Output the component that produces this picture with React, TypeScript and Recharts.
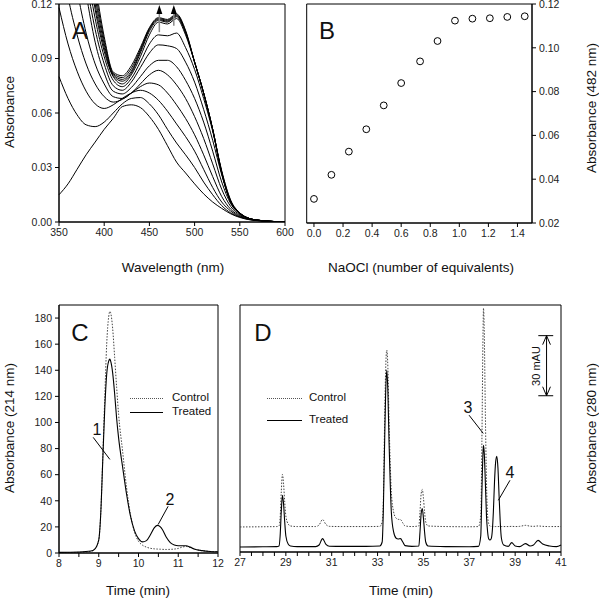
import React from 'react';
import { ComposedChart, ScatterChart, LineChart, Line, Scatter, XAxis, YAxis, ReferenceLine, ReferenceArea } from 'recharts';

// Panel A: absorption spectra (one array per NaOCl addition)
const wavelengths = [350, 360, 370, 380, 390, 400, 410, 420, 430, 440, 450, 460, 470, 480, 490, 500, 510, 520, 530, 540, 550, 560, 570, 580, 590, 600];
const spec00 = [0.015, 0.021, 0.029, 0.037, 0.044, 0.051, 0.057, 0.0635, 0.0645, 0.063, 0.058, 0.051, 0.042, 0.033, 0.027, 0.021, 0.0155, 0.011, 0.0075, 0.0045, 0.0025, 0.0013, 0.0007, 0.0004, 0.0002, 0];
const spec01 = [0.080, 0.068, 0.059, 0.0535, 0.0525, 0.055, 0.060, 0.065, 0.068, 0.0685, 0.065, 0.059, 0.051, 0.0435, 0.037, 0.030, 0.022, 0.015, 0.009, 0.005, 0.0028, 0.0014, 0.0008, 0.0004, 0.0002, 0];
const spec02 = [0.118, 0.098, 0.083, 0.072, 0.065, 0.0625, 0.0645, 0.068, 0.071, 0.0725, 0.071, 0.067, 0.061, 0.054, 0.047, 0.039, 0.029, 0.019, 0.011, 0.006, 0.003, 0.0015, 0.0008, 0.0004, 0.0002, 0];
const spec03 = [0.155, 0.124, 0.103, 0.087, 0.076, 0.069, 0.066, 0.0675, 0.071, 0.0745, 0.0765, 0.0755, 0.071, 0.0645, 0.057, 0.048, 0.037, 0.025, 0.014, 0.007, 0.0035, 0.0017, 0.0009, 0.0004, 0.0002, 0];
const spec04 = [0.20, 0.16, 0.128, 0.104, 0.087, 0.076, 0.069, 0.068, 0.071, 0.076, 0.081, 0.0835, 0.081, 0.0755, 0.068, 0.058, 0.046, 0.032, 0.018, 0.0085, 0.004, 0.0018, 0.0009, 0.0004, 0.0002, 0];
const spec05 = [0.25, 0.20, 0.16, 0.126, 0.099, 0.082, 0.072, 0.0705, 0.074, 0.080, 0.086, 0.089, 0.089, 0.0855, 0.078, 0.068, 0.055, 0.039, 0.022, 0.010, 0.0045, 0.002, 0.001, 0.0005, 0.0002, 0];
const spec06 = [0.27, 0.22, 0.175, 0.134, 0.106, 0.087, 0.075, 0.0725, 0.077, 0.085, 0.093, 0.0975, 0.097, 0.0955, 0.088, 0.077, 0.062, 0.045, 0.026, 0.011, 0.005, 0.002, 0.001, 0.0005, 0.0002, 0];
const spec07 = [0.28, 0.23, 0.185, 0.142, 0.112, 0.091, 0.078, 0.0745, 0.079, 0.088, 0.098, 0.103, 0.1025, 0.104, 0.096, 0.084, 0.068, 0.050, 0.028, 0.012, 0.005, 0.002, 0.001, 0.0005, 0.0002, 0];
const spec08 = [0.29, 0.24, 0.195, 0.15, 0.117, 0.094, 0.080, 0.076, 0.081, 0.091, 0.103, 0.110, 0.109, 0.112, 0.103, 0.088, 0.071, 0.051, 0.028, 0.0115, 0.005, 0.002, 0.001, 0.0005, 0.0002, 0];
const spec09 = [0.30, 0.25, 0.20, 0.155, 0.12, 0.096, 0.0805, 0.0775, 0.082, 0.093, 0.105, 0.111, 0.110, 0.113, 0.104, 0.088, 0.071, 0.051, 0.027, 0.011, 0.0048, 0.002, 0.001, 0.0005, 0.0002, 0];
const spec10 = [0.31, 0.26, 0.21, 0.16, 0.124, 0.098, 0.0812, 0.0785, 0.083, 0.094, 0.106, 0.1115, 0.1105, 0.1135, 0.1045, 0.088, 0.071, 0.051, 0.027, 0.011, 0.0048, 0.002, 0.001, 0.0005, 0.0002, 0];
const spec11 = [0.32, 0.27, 0.215, 0.165, 0.128, 0.100, 0.0818, 0.0795, 0.0845, 0.095, 0.1065, 0.112, 0.111, 0.114, 0.105, 0.088, 0.071, 0.051, 0.027, 0.011, 0.0048, 0.002, 0.001, 0.0005, 0.0002, 0];
const spec12 = [0.33, 0.28, 0.22, 0.17, 0.132, 0.102, 0.0825, 0.0805, 0.086, 0.096, 0.107, 0.1125, 0.1115, 0.1145, 0.1055, 0.088, 0.071, 0.051, 0.027, 0.011, 0.0048, 0.002, 0.001, 0.0005, 0.0002, 0];
const spectra = [spec00, spec01, spec02, spec03, spec04, spec05, spec06, spec07, spec08, spec09, spec10, spec11, spec12];

// arrows in panel A
const arrowWavelengths = [461, 477];
const arrowTails = [0.1045, 0.108];
const arrowTips = [0.1172, 0.1172];

// Panel B: titration at 482 nm
const equivalents = [0, 0.12, 0.24, 0.36, 0.48, 0.60, 0.73, 0.85, 0.97, 1.09, 1.21, 1.33, 1.45];
const abs482 = [0.031, 0.042, 0.0526, 0.0628, 0.0737, 0.0839, 0.0938, 0.1031, 0.1124, 0.1133, 0.1135, 0.1141, 0.1144];

// Panel C: HPLC 214 nm
const timeC = [8.0, 8.5, 8.8, 8.9, 9.0, 9.05, 9.1, 9.15, 9.2, 9.25, 9.28, 9.3, 9.35, 9.4, 9.45, 9.5, 9.6, 9.7, 9.8, 9.9, 10.0, 10.1, 10.2, 10.3, 10.4, 10.48, 10.55, 10.6, 10.7, 10.8, 10.9, 11.0, 11.1, 11.2, 11.3, 11.4, 11.6, 11.8, 12.0];
const controlC = [0.3, 0.5, 1.2, 3, 10, 30, 72, 118, 160, 181, 185, 184, 172, 150, 127, 106, 78, 50, 29, 16, 9, 6, 4.5, 3.6, 3.2, 3, 2.9, 2.8, 2.7, 2.8, 3, 3.5, 4.5, 5, 4.2, 3, 1.8, 1.2, 1];
const treatedC = [0.5, 0.8, 1.5, 3, 10, 30, 70, 110, 137, 147, 148.5, 147, 138, 122, 103, 88, 66, 45, 28, 17, 11, 8.5, 9.5, 14, 19.5, 21.2, 20, 18, 12, 8, 6.2, 5.6, 5.6, 5.6, 4.5, 3, 1.8, 1.2, 1];

// Panel D: HPLC 280 nm (mAU, control offset upward)
const timeD = [27.0, 28.0, 28.6, 28.7, 28.75, 28.8, 28.85, 28.9, 28.95, 29.0,
  29.1, 29.2, 29.5, 30.3, 30.45, 30.6, 30.75, 30.9, 31.5, 32.5,
  33.1, 33.2, 33.25, 33.3, 33.35, 33.4, 33.45, 33.5, 33.55, 33.6,
  33.7, 33.8, 33.9, 34.0, 34.1, 34.2, 34.5, 34.8, 34.85, 34.9,
  34.95, 35.0, 35.05, 35.1, 35.2, 36.0, 37.0, 37.4, 37.5, 37.55,
  37.6, 37.62, 37.65, 37.7, 37.75, 37.8, 37.85, 37.9, 37.95, 38.0,
  38.05, 38.1, 38.15, 38.2, 38.25, 38.3, 38.35, 38.4, 38.5, 38.7,
  38.85, 39.0, 39.2, 39.45, 39.65, 39.8, 40.0, 40.2, 40.5, 40.8, 41.0];
const controlD = [12.5, 12.6, 12.7, 13, 17, 30, 38.7, 34, 25, 18,
  14, 13, 12.7, 12.7, 13.5, 16.2, 13.7, 12.8, 12.7, 12.7,
  12.8, 15, 25, 60, 90, 100.8, 92, 66, 45, 30,
  20, 17, 16.3, 16.2, 14.5, 13, 12.7, 13, 20, 29,
  31.2, 27, 20, 15, 13, 12.7, 12.6, 12.7, 18, 55,
  110, 121.7, 112, 70, 35, 18, 14, 13, 12.8, 12.7,
  12.7, 12.7, 12.7, 12.7, 12.7, 12.7, 12.7, 12.7, 12.7, 12.7,
  12.8, 12.7, 12.8, 13.3, 12.9, 12.8, 13, 12.8, 12.7, 12.7, 12.7];
const treatedD = [2.5, 2.6, 2.7, 3, 8, 20, 28.3, 24, 15, 8,
  4, 3, 2.7, 2.7, 3.5, 6.7, 3.8, 2.9, 2.8, 2.8,
  3, 5, 20, 50, 78, 90.8, 80, 55, 35, 20,
  10, 7, 6.5, 6.7, 5, 3.2, 2.8, 3, 10, 19,
  21.7, 17, 10, 5, 3, 2.7, 2.6, 2.8, 8, 30,
  50, 53.3, 50, 35, 18, 10, 6.5, 6, 6.5, 10,
  20, 35, 45, 47.8, 42, 28, 15, 7, 3.5, 2.8,
  4.7, 3, 2.7, 4.2, 3, 3.5, 5.8, 4, 3, 2.7, 3.5];

const waveTicks = [350, 400, 450, 500, 550, 600];
const absTicksA = [0, 0.03, 0.06, 0.09, 0.12];
const eqTicks = [0, 0.2, 0.4, 0.6, 0.8, 1.0, 1.2, 1.4];
const absTicksB = [0.02, 0.04, 0.06, 0.08, 0.10, 0.12];
const timeTicksC = [8, 8.5, 9, 9.5, 10, 10.5, 11, 11.5, 12];
const absTicksC = [0, 20, 40, 60, 80, 100, 120, 140, 160, 180];
const timeTicksD = [27, 27.5, 28, 28.5, 29, 29.5, 30, 30.5, 31, 31.5, 32, 32.5, 33, 33.5, 34, 34.5, 35, 35.5, 36, 36.5, 37, 37.5, 38, 38.5, 39, 39.5, 40, 40.5, 41];

const spectraRows = wavelengths.map((w, i) => {
  const row: any = { w };
  spectra.forEach((s, k) => { row['s' + k] = s[i]; });
  return row;
});
const arrowRows = arrowWavelengths.map((w, i) => ({ w, a: arrowTips[i] }));
const titrationRows = equivalents.map((x, i) => ({ x, y: abs482[i] }));
const rowsC = timeC.map((t, i) => ({ t, control: controlC[i], treated: treatedC[i] }));
const rowsD = timeD.map((t, i) => ({ t, control: controlD[i], treated: treatedD[i] }));

const FONT = '"Liberation Sans", Arial, Helvetica, sans-serif';
const tickStyle = { fontSize: 10.5, fill: '#222', fontFamily: FONT };

const ArrowHead = (props: any) => {
  const { cx, cy } = props;
  return <path d={`M${cx},${cy - 4} L${cx - 3},${cy + 5} L${cx + 3},${cy + 5} Z`} fill="#000" />;
};

const OpenCircle = (props: any) => {
  const { cx, cy } = props;
  return <circle cx={cx} cy={cy} r={3.4} fill="#fff" stroke="#000" strokeWidth={1} />;
};

const halfLabel = (v: number) => (Number.isInteger(v) ? String(v) : '');
const oddLabel = (v: number) => (Number.isInteger(v) && v % 2 === 1 ? String(v) : '');

function Txt({ x, y, size, rot = 0, left = false, children }: any) {
  return (
    <div
      style={{
        position: 'absolute',
        left: x,
        top: y,
        transform: `translate(${left ? '0' : '-50%'}, -50%) rotate(${rot}deg)`,
        fontSize: size,
        lineHeight: 1,
        whiteSpace: 'nowrap',
        color: '#111',
      }}
    >
      {children}
    </div>
  );
}

function LegendLine({ x1, x2, y, dotted }: any) {
  return (
    <div
      style={{
        position: 'absolute',
        left: x1,
        top: y,
        width: x2 - x1,
        borderTop: dotted ? '1px dotted #555' : '1px solid #000',
      }}
    />
  );
}

export default function App() {
  return (
    <div style={{ position: 'absolute', left: 0, top: 0, width: 599, height: 601, background: '#fff', fontFamily: FONT }}>
      {/* A: spectra */}
      <div style={{ position: 'absolute', left: 0, top: 0 }}>
        <ComposedChart width={300} height={290} data={spectraRows} margin={{ top: 4, right: 15, bottom: 38, left: 0 }}>
          <XAxis dataKey="w" type="number" domain={[350, 600]} ticks={waveTicks} interval={0} height={30} tickSize={4} tickMargin={3} tick={tickStyle} stroke="#000" />
          <YAxis type="number" domain={[0, 0.12]} ticks={absTicksA} allowDataOverflow interval={0} width={59} tickSize={4} tickMargin={3} tick={tickStyle} stroke="#000" tickFormatter={(v: number) => v.toFixed(2)} />
          <ReferenceArea x1={350} x2={600} y1={0} y2={0.12} fill="none" stroke="#000" strokeWidth={1} ifOverflow="visible" />
          {spectra.map((_, k) => (
            <Line key={k} dataKey={'s' + k} type="monotone" dot={false} stroke="#000" strokeWidth={1} isAnimationActive={false} />
          ))}
          {arrowWavelengths.map((w, i) => (
            <ReferenceLine key={w} segment={[{ x: w, y: arrowTails[i] }, { x: w, y: arrowTips[i] - 0.002 }]} stroke="#888" strokeWidth={1.5} />
          ))}
          <Scatter data={arrowRows} dataKey="a" shape={ArrowHead} isAnimationActive={false} />
        </ComposedChart>
      </div>

      {/* B: titration */}
      <div style={{ position: 'absolute', left: 300, top: 0 }}>
        <ScatterChart width={299} height={290} margin={{ top: 4, right: 7, bottom: 37, left: 6.7 }}>
          <XAxis dataKey="x" type="number" domain={[-0.05, 1.5]} ticks={eqTicks} interval={0} height={30} tickSize={4} tickMargin={3} tick={tickStyle} stroke="#000" tickFormatter={(v: number) => v.toFixed(1)} />
          <YAxis dataKey="y" type="number" orientation="right" domain={[0.02, 0.12]} ticks={absTicksB} interval={0} width={60} tickSize={4} tickMargin={3} tick={tickStyle} stroke="#000" tickFormatter={(v: number) => v.toFixed(2)} />
          <ReferenceArea x1={-0.05} x2={1.5} y1={0.02} y2={0.12} fill="none" stroke="#000" strokeWidth={1} ifOverflow="visible" />
          <Scatter data={titrationRows} shape={OpenCircle} isAnimationActive={false} />
        </ScatterChart>
      </div>

      {/* C: HPLC 214 nm */}
      <div style={{ position: 'absolute', left: 0, top: 300 }}>
        <LineChart width={230} height={301} data={rowsC} margin={{ top: 5, right: 12, bottom: 18, left: 0 }}>
          <XAxis dataKey="t" type="number" domain={[8, 12]} ticks={timeTicksC} interval={0} height={30} tickSize={4} tickMargin={3} tick={tickStyle} stroke="#000" tickFormatter={halfLabel} />
          <YAxis type="number" domain={[0, 190]} ticks={absTicksC} interval={0} width={59} tickSize={4} tickMargin={3} tick={tickStyle} stroke="#000" />
          <ReferenceArea x1={8} x2={12} y1={0} y2={190} fill="none" stroke="#000" strokeWidth={1} ifOverflow="visible" />
          <Line dataKey="control" type="monotone" dot={false} stroke="#444" strokeWidth={1} strokeDasharray="1.5 1.5" isAnimationActive={false} />
          <Line dataKey="treated" type="monotone" dot={false} stroke="#000" strokeWidth={1.1} isAnimationActive={false} />
          <ReferenceLine segment={[{ x: 8.86, y: 88.6 }, { x: 9.28, y: 71.7 }]} stroke="#000" strokeWidth={1} />
          <ReferenceLine segment={[{ x: 10.745, y: 35.8 }, { x: 10.494, y: 21.8 }]} stroke="#000" strokeWidth={1} />
        </LineChart>
      </div>

      {/* D: HPLC 280 nm */}
      <div style={{ position: 'absolute', left: 230, top: 300 }}>
        <LineChart width={369} height={301} data={rowsD} margin={{ top: 5, right: 38, bottom: 19, left: 10 }}>
          <XAxis dataKey="t" type="number" domain={[27, 41]} ticks={timeTicksD} interval={0} height={30} tickSize={4} tickMargin={3} tick={tickStyle} stroke="#000" tickFormatter={oddLabel} />
          <YAxis hide type="number" domain={[0, 123.3]} allowDataOverflow />
          <ReferenceArea x1={27} x2={41} y1={0} y2={123.3} fill="none" stroke="#000" strokeWidth={1} ifOverflow="visible" />
          <Line dataKey="control" type="monotone" dot={false} stroke="#444" strokeWidth={1} strokeDasharray="1.5 1.5" isAnimationActive={false} />
          <Line dataKey="treated" type="monotone" dot={false} stroke="#000" strokeWidth={1.1} isAnimationActive={false} />
          <ReferenceLine segment={[{ x: 36.99, y: 68.3 }, { x: 37.61, y: 59.2 }]} stroke="#000" strokeWidth={1} />
          <ReferenceLine segment={[{ x: 38.775, y: 35.8 }, { x: 38.266, y: 25.8 }]} stroke="#000" strokeWidth={1} />
          {/* 30 mAU scale bar */}
          <ReferenceLine segment={[{ x: 40.37, y: 78 }, { x: 40.37, y: 108 }]} stroke="#000" strokeWidth={1} />
          <ReferenceLine segment={[{ x: 40.01, y: 108 }, { x: 40.66, y: 108 }]} stroke="#000" strokeWidth={1} />
          <ReferenceLine segment={[{ x: 40.01, y: 78 }, { x: 40.66, y: 78 }]} stroke="#000" strokeWidth={1} />
          <ReferenceLine segment={[{ x: 40.2, y: 103.5 }, { x: 40.37, y: 108 }]} stroke="#000" strokeWidth={1} />
          <ReferenceLine segment={[{ x: 40.54, y: 103.5 }, { x: 40.37, y: 108 }]} stroke="#000" strokeWidth={1} />
          <ReferenceLine segment={[{ x: 40.2, y: 82.5 }, { x: 40.37, y: 78 }]} stroke="#000" strokeWidth={1} />
          <ReferenceLine segment={[{ x: 40.54, y: 82.5 }, { x: 40.37, y: 78 }]} stroke="#000" strokeWidth={1} />
        </LineChart>
      </div>

      {/* panel letters */}
      <Txt x={80} y={31} size={24}>A</Txt>
      <Txt x={327} y={31} size={24}>B</Txt>
      <Txt x={80} y={333} size={24}>C</Txt>
      <Txt x={263} y={333} size={24}>D</Txt>

      {/* axis titles */}
      <Txt x={10} y={112} size={13.5} rot={-90}>Absorbance</Txt>
      <Txt x={173} y={268} size={13.5}>Wavelength (nm)</Txt>
      <Txt x={421} y={268} size={13.5}>NaOCl (number of equivalents)</Txt>
      <Txt x={592} y={108} size={13.5} rot={-90}>Absorbance (482 nm)</Txt>
      <Txt x={10} y={428} size={13.5} rot={-90}>Absorbance (214 nm)</Txt>
      <Txt x={138} y={591} size={13.5}>Time (min)</Txt>
      <Txt x={401} y={591} size={13.5}>Time (min)</Txt>
      <Txt x={592} y={428} size={13.5} rot={-90}>Absorbance (280 nm)</Txt>

      {/* legends */}
      <LegendLine x1={130} x2={163} y={397.5} dotted />
      <Txt x={172} y={398} size={11.5} left>Control</Txt>
      <LegendLine x1={130} x2={163} y={411.5} />
      <Txt x={172} y={412} size={11.5} left>Treated</Txt>
      <LegendLine x1={267} x2={302} y={397.5} dotted />
      <Txt x={309} y={398} size={11.5} left>Control</Txt>
      <LegendLine x1={267} x2={302} y={419.5} />
      <Txt x={309} y={420} size={11.5} left>Treated</Txt>

      {/* peak numbers */}
      <Txt x={97} y={430} size={16}>1</Txt>
      <Txt x={170} y={500} size={16}>2</Txt>
      <Txt x={468} y={408} size={16}>3</Txt>
      <Txt x={510} y={473} size={16}>4</Txt>
      <Txt x={536} y={366} size={11} rot={-90}>30 mAU</Txt>
    </div>
  );
}
